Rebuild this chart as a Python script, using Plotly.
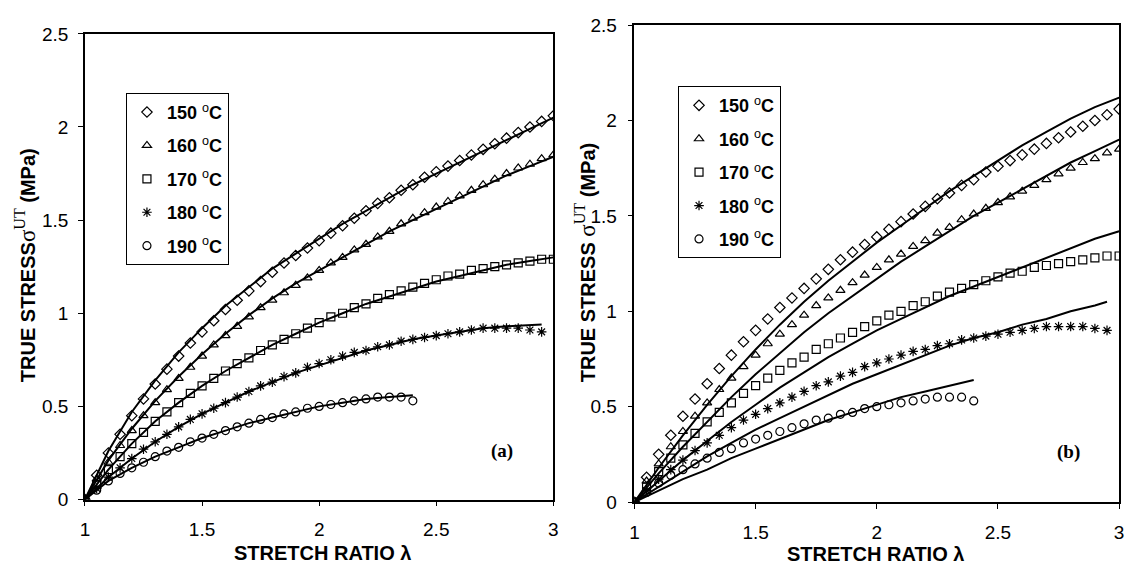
import plotly.graph_objects as go

# ---------------- data ----------------
LAMBDA_EXP = [1.00, 1.05, 1.10, 1.15, 1.20, 1.25, 1.30, 1.35, 1.40, 1.45,
              1.50, 1.55, 1.60, 1.65, 1.70, 1.75, 1.80, 1.85, 1.90, 1.95,
              2.00, 2.05, 2.10, 2.15, 2.20, 2.25, 2.30, 2.35, 2.40, 2.45,
              2.50, 2.55, 2.60, 2.65, 2.70, 2.75, 2.80, 2.85, 2.90, 2.95, 3.00]

EXP_150 = [0, 0.13, 0.25, 0.35, 0.45, 0.54, 0.62, 0.70, 0.77, 0.84,
           0.90, 0.96, 1.02, 1.07, 1.12, 1.17, 1.22, 1.27, 1.31, 1.35,
           1.39, 1.43, 1.47, 1.51, 1.55, 1.59, 1.62, 1.66, 1.69, 1.73,
           1.76, 1.79, 1.82, 1.85, 1.88, 1.91, 1.94, 1.97, 2.00, 2.03, 2.06]
EXP_160 = [0, 0.11, 0.20, 0.29, 0.37, 0.45, 0.52, 0.59, 0.65, 0.71,
           0.77, 0.83, 0.88, 0.93, 0.98, 1.03, 1.07, 1.11, 1.15, 1.19,
           1.23, 1.27, 1.30, 1.34, 1.37, 1.41, 1.44, 1.48, 1.51, 1.54,
           1.57, 1.60, 1.63, 1.66, 1.69, 1.72, 1.75, 1.78, 1.80, 1.83, 1.85]
EXP_170 = [0, 0.08, 0.16, 0.23, 0.30, 0.36, 0.42, 0.47, 0.52, 0.57,
           0.61, 0.65, 0.69, 0.73, 0.76, 0.80, 0.83, 0.86, 0.89, 0.92,
           0.95, 0.98, 1.00, 1.03, 1.05, 1.08, 1.10, 1.12, 1.14, 1.16,
           1.18, 1.20, 1.21, 1.23, 1.24, 1.25, 1.26, 1.27, 1.28, 1.29, 1.29]
EXP_180 = [0, 0.06, 0.12, 0.17, 0.22, 0.27, 0.31, 0.35, 0.39, 0.43,
           0.46, 0.49, 0.52, 0.55, 0.58, 0.61, 0.63, 0.66, 0.68, 0.71,
           0.73, 0.75, 0.77, 0.79, 0.80, 0.82, 0.83, 0.85, 0.86, 0.87,
           0.88, 0.89, 0.90, 0.91, 0.92, 0.92, 0.92, 0.92, 0.91, 0.90]
EXP_190 = [0, 0.05, 0.10, 0.14, 0.17, 0.20, 0.23, 0.26, 0.28, 0.31,
           0.33, 0.35, 0.37, 0.39, 0.41, 0.43, 0.44, 0.46, 0.47, 0.49,
           0.50, 0.51, 0.52, 0.53, 0.54, 0.55, 0.55, 0.55, 0.53]

LAMBDA_FIT = [1.0, 1.1, 1.2, 1.3, 1.4, 1.5, 1.6, 1.7, 1.8, 1.9, 2.0,
              2.1, 2.2, 2.3, 2.4, 2.5, 2.6, 2.7, 2.8, 2.9, 3.0]
LAMBDA_FIT_180 = [1.0, 1.1, 1.2, 1.3, 1.4, 1.5, 1.6, 1.7, 1.8, 1.9, 2.0,
                  2.1, 2.2, 2.3, 2.4, 2.5, 2.6, 2.7, 2.8, 2.9, 2.95]

# model fits, panel (a)
FIT_A_150 = [0, 0.26, 0.47, 0.64, 0.79, 0.92, 1.04, 1.14, 1.24, 1.32, 1.40,
             1.48, 1.55, 1.62, 1.69, 1.75, 1.81, 1.87, 1.93, 1.99, 2.05]
FIT_A_160 = [0, 0.21, 0.38, 0.53, 0.66, 0.78, 0.89, 0.99, 1.08, 1.16, 1.23,
             1.30, 1.37, 1.44, 1.50, 1.56, 1.62, 1.68, 1.74, 1.79, 1.84]
FIT_A_170 = [0, 0.16, 0.30, 0.42, 0.52, 0.61, 0.69, 0.76, 0.83, 0.89, 0.95,
             1.00, 1.05, 1.09, 1.13, 1.17, 1.20, 1.23, 1.26, 1.28, 1.30]
FIT_A_180 = [0, 0.12, 0.22, 0.31, 0.39, 0.46, 0.52, 0.58, 0.63, 0.68, 0.72,
             0.76, 0.80, 0.83, 0.86, 0.88, 0.90, 0.92, 0.93, 0.935, 0.94]
FIT_A_190 = [0, 0.10, 0.17, 0.23, 0.28, 0.33, 0.37, 0.41, 0.44, 0.47, 0.50,
             0.52, 0.54, 0.55, 0.56]

# model fits, panel (b)
FIT_B_150 = [0, 0.18, 0.35, 0.51, 0.66, 0.80, 0.93, 1.05, 1.16, 1.26, 1.36,
             1.45, 1.54, 1.63, 1.71, 1.79, 1.87, 1.94, 2.01, 2.07, 2.12]
FIT_B_160 = [0, 0.15, 0.29, 0.42, 0.55, 0.67, 0.78, 0.89, 0.99, 1.08, 1.17,
             1.26, 1.34, 1.42, 1.50, 1.57, 1.64, 1.71, 1.78, 1.84, 1.90]
FIT_B_170 = [0, 0.11, 0.22, 0.32, 0.42, 0.51, 0.60, 0.68, 0.76, 0.83, 0.90,
             0.96, 1.02, 1.08, 1.13, 1.18, 1.23, 1.28, 1.33, 1.38, 1.42]
FIT_B_180 = [0, 0.08, 0.16, 0.24, 0.31, 0.38, 0.44, 0.50, 0.56, 0.62, 0.67,
             0.72, 0.77, 0.82, 0.86, 0.89, 0.93, 0.96, 1.00, 1.03, 1.05]
FIT_B_190 = [0, 0.06, 0.12, 0.17, 0.23, 0.28, 0.33, 0.38, 0.43, 0.47, 0.51,
             0.55, 0.58, 0.61, 0.64]

TEMPS = ["150", "160", "170", "180", "190"]
SYMBOLS = ["diamond-open", "triangle-up-open", "square-open", "asterisk-open", "circle-open"]
EXP = [EXP_150, EXP_160, EXP_170, EXP_180, EXP_190]
FIT_A = [FIT_A_150, FIT_A_160, FIT_A_170, FIT_A_180, FIT_A_190]
FIT_B = [FIT_B_150, FIT_B_160, FIT_B_170, FIT_B_180, FIT_B_190]
FIT_X = [LAMBDA_FIT, LAMBDA_FIT, LAMBDA_FIT, LAMBDA_FIT_180, LAMBDA_FIT]

X_TICKS = [1, 1.5, 2, 2.5, 3]
X_TICKTEXT = ["1", "1.5", "2", "2.5", "3"]
Y_TICKS = [0, 0.5, 1, 1.5, 2, 2.5]
Y_TICKTEXT = ["0", "0.5", "1", "1.5", "2", "2.5"]

FONT = "Arial, 'Liberation Sans', sans-serif"
SERIF = "'Times New Roman', 'Liberation Serif', serif"

fig = go.Figure()

panels = [("x", "y", FIT_A, "legend"), ("x2", "y2", FIT_B, "legend2")]
for xa, ya, fits, leg in panels:
    for i in range(5):
        fig.add_trace(go.Scatter(
            x=FIT_X[i][:len(fits[i])], y=fits[i], mode="lines",
            line=dict(color="black", width=2), xaxis=xa, yaxis=ya,
            showlegend=False, hoverinfo="skip"))
    for i in range(5):
        ys = EXP[i]
        fig.add_trace(go.Scatter(
            x=LAMBDA_EXP[:len(ys)], y=ys, mode="markers",
            marker=dict(symbol=SYMBOLS[i], size=8, color="black",
                        line=dict(color="black", width=1.2)),
            name="<b>" + TEMPS[i] + "</b> <sup>o</sup><b>C</b>",
            legendgroup=leg + TEMPS[i], legend=leg,
            xaxis=xa, yaxis=ya))

axis_common = dict(showline=True, linecolor="black", linewidth=1.5, mirror=True,
                   showgrid=False, zeroline=False, ticks="outside", ticklen=5,
                   tickcolor="black", tickwidth=1.2,
                   tickfont=dict(family=FONT, size=19, color="black"))

fig.update_layout(
    width=1133, height=576,
    margin=dict(l=0, r=0, t=0, b=0),
    paper_bgcolor="white", plot_bgcolor="white",
    font=dict(family=FONT, color="black"),
    xaxis=dict(domain=[0.0712, 0.4883], range=[1, 3], tickvals=X_TICKS,
               ticktext=X_TICKTEXT, anchor="y", ticklabelstandoff=7, **axis_common),
    yaxis=dict(domain=[0.118, 0.957], range=[0, 2.5], tickvals=Y_TICKS,
               ticktext=Y_TICKTEXT, anchor="x", ticklabelstandoff=6, **axis_common),
    xaxis2=dict(domain=[0.5605, 0.9921], range=[1, 3], tickvals=X_TICKS,
                ticktext=X_TICKTEXT, anchor="y2", ticklabelstandoff=7, **axis_common),
    yaxis2=dict(domain=[0.1134, 0.9727], range=[0, 2.5], tickvals=Y_TICKS,
                ticktext=Y_TICKTEXT, anchor="x2", ticklabelstandoff=7, **axis_common),
    legend=dict(x=0.1077, y=0.8507, xanchor="left", yanchor="top",
                bordercolor="black", borderwidth=1, bgcolor="white",
                font=dict(family=FONT, size=18, color="black"),
                tracegroupgap=7, itemwidth=30),
    legend2=dict(x=0.5993, y=0.8628, xanchor="left", yanchor="top",
                 bordercolor="black", borderwidth=1, bgcolor="white",
                 font=dict(family=FONT, size=18, color="black"),
                 tracegroupgap=7, itemwidth=30),
)

SERIF_CSS = SERIF.replace("'", "")
ytitle = ("<b>TRUE STRESS</b><span style=\"font-family:" + SERIF_CSS +
          "; font-size:23px\">σ<sup>UT</sup></span><b> (MPa)</b>")
ytitle_b = ("<b>TRUE STRESS </b><span style=\"font-family:" + SERIF_CSS +
            "; font-size:23px\">σ<sup>UT</sup></span><b> (MPa)</b>")

annots = [
    dict(x=0.283, y=(576 - 564) / 576, text="<b>STRETCH RATIO λ</b>"),
    dict(x=0.775, y=(576 - 565) / 576, text="<b>STRETCH RATIO λ</b>"),
    dict(x=21 / 1133, y=(576 - 265) / 576, text=ytitle, textangle=-90),
    dict(x=586 / 1133, y=(576 - 262) / 576, text=ytitle_b, textangle=-90),
]
for a in annots:
    fig.add_annotation(xref="paper", yref="paper", showarrow=False,
                       xanchor="center", yanchor="middle",
                       font=dict(family=FONT, size=20, color="black"), **a)

fig.add_annotation(xref="x", yref="y", x=2.78, y=0.26, text="<b>(a)</b>",
                   showarrow=False, font=dict(family=SERIF, size=19, color="black"))
fig.add_annotation(xref="x2", yref="y2", x=2.79, y=0.26, text="<b>(b)</b>",
                   showarrow=False, font=dict(family=SERIF, size=19, color="black"))

fig.write_html("out.html",
               config={"displayModeBar": False},
               post_script="document.body.style.margin='0';"
                           "document.body.style.overflow='hidden';")
